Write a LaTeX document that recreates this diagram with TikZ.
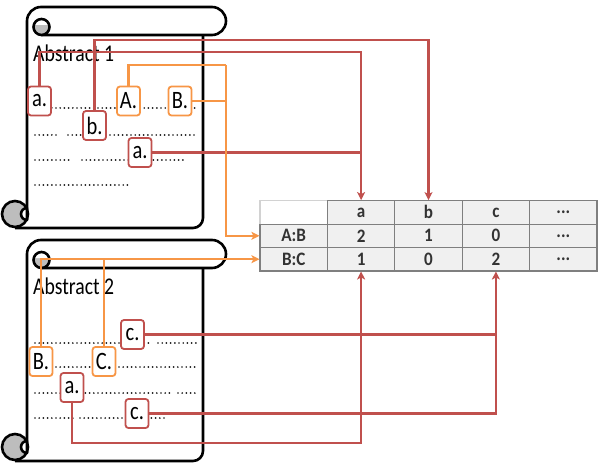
\documentclass[tikz,border=0pt]{standalone}
\usepackage{fontspec}
\setmainfont{Carlito}
\usetikzlibrary{arrows.meta,calc}
\definecolor{redc}{HTML}{C0504D}
\definecolor{orc}{HTML}{F79646}
\definecolor{cellg}{HTML}{F0F0F0}
\definecolor{gridg}{HTML}{7F7F7F}
\definecolor{txtg}{HTML}{333333}
\definecolor{curlg}{HTML}{BDBDBD}
\newcommand\bx[1]{\scalebox{0.82}[1]{#1}}
\newcommand\tx[1]{\scalebox{0.9}[1]{#1}}
\newcommand\drawscroll{%
  \fill[white] (27,30) rectangle (203,228);
  \draw[scr] (203,35) -- (203,218) arc[start angle=0,end angle=-90,radius=10pt] -- (15,228);
  \draw[scr, fill=white] (27,208) -- (27,21) arc[start angle=180,end angle=90,radius=14pt] -- (212,7) arc[start angle=90,end angle=-90,radius=14pt] -- (41.5,35);
  \fill[curlg] (41.5,27) circle[radius=7.5pt];
  \fill[white] (34,25) arc[start angle=180,end angle=0,radius=7.5pt] -- cycle;
  \draw[scr] (41.5,27) circle[radius=8pt];
  \filldraw[scr, fill=curlg] (15,214) circle[radius=13pt];
  \filldraw[scr, fill=white] (27,208) arc[start angle=90,end angle=270,radius=6pt] -- cycle;
}
\begin{document}
\begin{tikzpicture}[x=1pt,y=-1pt,
  scr/.style={line width=2.6pt, line join=round},
  lbl/.style={anchor=west, font=\fontsize{24}{24}\selectfont, inner sep=0pt},
  rbox/.style={draw=redc, fill=white, line width=1.8pt, rounded corners=3pt, minimum width=23pt, minimum height=29pt, inner sep=0pt, font=\fontsize{25}{25}\selectfont},
  obox/.style={rbox, draw=orc},
  rl/.style={draw=redc, line width=2.3pt},
  ol/.style={draw=orc, line width=2.3pt},
  arr/.style={-{Stealth[length=8pt,width=8pt,inset=2pt]}},
  dotl/.style={line width=1.9pt, line cap=round, dash pattern=on 0pt off 4.2pt, black!90},
  cell/.style={draw=gridg, fill=cellg, line width=1.2pt, minimum width=67.4pt, minimum height=23.4pt, inner sep=0pt, font=\bfseries\fontsize{19}{19}\selectfont, text=txtg}
]
\useasboundingbox (0,0) rectangle (600,468);
\fill[white] (0,0) rectangle (600,468);

% scrolls
\begin{scope}
  \drawscroll
  \node[lbl] (t1) at (33,53) {\bx{Abstract 1}};
  \draw[dotl] (35,108) -- (198,108);
  \draw[dotl] (35,135) -- (58,135);
  \draw[dotl] (68,135) -- (198,135);
  \draw[dotl] (35,160) -- (72,160);
  \draw[dotl] (82,160) -- (185,160);
  \draw[dotl] (35,185) -- (130,185);
\end{scope}
\begin{scope}[shift={(0,233)}]
  \drawscroll
  \node[lbl] (t2) at (33,53) {\bx{Abstract 2}};
\end{scope}
\draw[dotl] (35,343) -- (150,343);
\draw[dotl] (158,343) -- (198,343);
\draw[dotl] (35,367) -- (198,367);
\draw[dotl] (35,393) -- (170,393);
\draw[dotl] (178,393) -- (195,393);
\draw[dotl] (35,418) -- (74,418);
\draw[dotl] (80,418) -- (165,418);

% boxes
\node[rbox] (a1) at (39.5,101) {\bx{a.}};
\node[obox] (A1) at (128.5,101) {\bx{A.}};
\node[obox] (B1) at (180,101) {\bx{B.}};
\node[rbox] (b1) at (94.5,125.5) {\bx{b.}};
\node[rbox] (a1b) at (140,152.5) {\bx{a.}};
\node[rbox] (c2t) at (132.5,334.5) {\bx{c.}};
\node[obox] (B2) at (41,361.5) {\bx{B.}};
\node[obox] (C2) at (104,361.5) {\bx{C.}};
\node[rbox] (a2) at (72,387.5) {\bx{a.}};
\node[rbox] (c2b) at (137,413.5) {\bx{c.}};

% table
\node[cell, fill=white, draw=gridg!35] (h0) at (293.7,212.4) {};
\node[cell] (ha) at (361.1,212.4) {\tx{a}};
\node[cell] (hb) at (428.5,212.4) {\tx{b}};
\node[cell] (hc) at (495.9,212.4) {\tx{c}};
\node[cell] (hd) at (563.3,212.4) {\tx{...}};
\node[cell] (rAB) at (293.7,235.8) {\tx{A:B}};
\node[cell] (ua) at (361.1,235.8) {\tx{2}};
\node[cell] (ub) at (428.5,235.8) {\tx{1}};
\node[cell] (uc) at (495.9,235.8) {\tx{0}};
\node[cell] (ud) at (563.3,235.8) {\tx{...}};
\node[cell] (rBC) at (293.7,259.2) {\tx{B:C}};
\node[cell] (va) at (361.1,259.2) {\tx{1}};
\node[cell] (vb) at (428.5,259.2) {\tx{0}};
\node[cell] (vc) at (495.9,259.2) {\tx{2}};
\node[cell] (vd) at (563.3,259.2) {\tx{...}};

% connectors
\coordinate (ya) at (0,52);
\coordinate (yb) at (0,40);
\coordinate (oc) at (226,65);
\coordinate (ybot) at (0,443);
\draw[rl,arr] (a1.north) |- (ha.north |- ya) -- (ha.north);
\draw[rl,arr] (b1.north) |- (hb.north |- yb) -- (hb.north);
\draw[rl] (a1b.east) -- (a1b.east -| ha.north);
\draw[ol] (A1.north) |- (oc);
\draw[ol,arr] (oc) |- (rAB.west);
\draw[ol] (B1.east) -- (B1.east -| oc);
\draw[ol,arr] (B2.north) |- (rBC.west);
\draw[ol] (C2.north) -- (C2.north |- rBC.west);
\draw[rl,arr] (c2b.east) -| (vc.south);
\draw[rl] (c2t.east) -- (c2t.east -| vc.south);
\draw[rl,arr] (a2.south) |- (va.south |- ybot) -- (va.south);
\end{tikzpicture}
\end{document}
